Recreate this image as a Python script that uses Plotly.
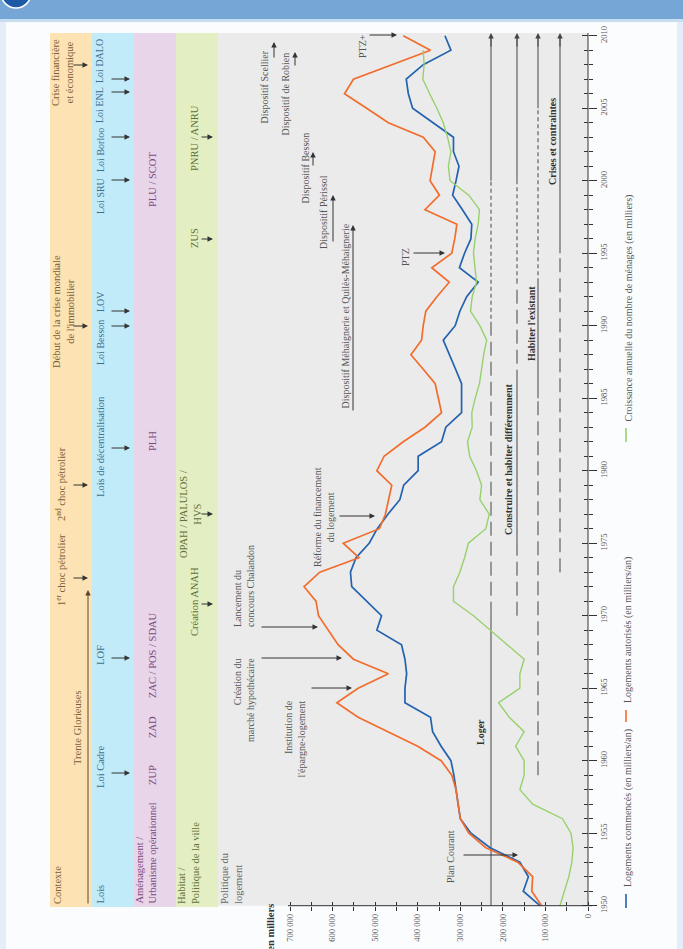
import plotly.graph_objects as go

W, H = 683, 949

# ---------------- data (thousands) ----------------
years = list(range(1950, 2011))
logements_commences = [113, 152, 140, 160, 230, 275, 300, 305, 310, 315,
                       322, 345, 365, 370, 430, 430, 426, 430, 438, 496,
                       485, 520, 555, 558, 545, 514, 495, 470, 442, 433,
                       399, 399, 344, 334, 297, 297, 297, 311, 326, 340,
                       312, 301, 285, 258, 302, 290, 275, 273, 295, 318,
                       310, 303, 316, 316, 364, 412, 422, 427, 387, 322,
                       336]
logements_autorises = [109, 132, 130, 165, 240, 280, 300, 305, 310, 320,
                       345, 400, 470, 540, 590, 540, 469, 551, 587, 610,
                       633, 639, 667, 630, 538, 575, 490, 476, 468, 461,
                       496, 479, 434, 383, 344, 352, 359, 387, 416, 391,
                       387, 381, 355, 326, 367, 320, 313, 308, 383, 349,
                       371, 365, 359, 387, 469, 520, 572, 551, 460, 370,
                       434]
years_menages = list(range(1950, 2010))
croissance_menages = [66, 56, 45, 38, 35, 40, 60, 130, 160, 150,
                      150, 170, 150, 185, 210, 160, 160, 150, 190, 230,
                      269, 316, 316, 301, 290, 281, 240, 232, 254, 250,
                      262, 278, 283, 272, 273, 265, 255, 250, 245, 238,
                      254, 276, 272, 262, 265, 269, 265, 258, 255, 280,
                      324, 328, 322, 330, 340, 355, 372, 388, 385, 387]

value_ticks = [0, 100000, 200000, 300000, 400000, 500000, 600000, 700000]
value_labels = ["0", "100 000", "200 000", "300 000", "400 000", "500 000", "600 000", "700 000"]
year_ticks = list(range(1950, 2011, 5))

series_names = ["Logements commencés (en milliers/an)",
                "Logements autorisés (en milliers/an)",
                "Croissance annuelle du nombre de ménages (en milliers)"]

# ---------------- geometry helpers ----------------
PX0 = 588.0            # pixel column of value 0
PXU = 42.57 / 100000   # pixels per unit
PY2010 = 35.7          # pixel row of 2010
PYR = 14.5             # pixels per year

def X(px):
    return px / W

def Y(py):
    return 1 - py / H

def py_of_year(yr):
    return PY2010 + (2010 - yr) * PYR

xr = [PX0 / PXU, (PX0 - W) / PXU]
yr_range = [2010 - (H - PY2010) / PYR, 2010 + PY2010 / PYR]

SERIF = "Liberation Serif"
C_BLUE = "#2262ae"
C_ORANGE = "#f26d2d"
C_GREEN = "#97d16d"

fig = go.Figure()
fig.add_trace(go.Scatter(x=[v * 1000 for v in logements_commences], y=years, mode="lines",
                         line=dict(color=C_BLUE, width=1.7), name=series_names[0],
                         showlegend=False, hoverinfo="skip"))
fig.add_trace(go.Scatter(x=[v * 1000 for v in logements_autorises], y=years, mode="lines",
                         line=dict(color=C_ORANGE, width=1.7), name=series_names[1],
                         showlegend=False, hoverinfo="skip"))
fig.add_trace(go.Scatter(x=[v * 1000 for v in croissance_menages], y=years_menages, mode="lines",
                         line=dict(color=C_GREEN, width=1.4), name=series_names[2],
                         showlegend=False, hoverinfo="skip", xaxis="x2", yaxis="y2"))

shapes = []
annots = []

def rect(x0, y0, x1, y1, color, line=None):
    shapes.append(dict(type="rect", xref="paper", yref="paper", x0=X(x0), x1=X(x1),
                       y0=Y(y0), y1=Y(y1), fillcolor=color, layer="below",
                       line=dict(width=0) if line is None else line))

def hline_px(x0, x1, py, color="#444", width=1, dash="solid"):
    shapes.append(dict(type="line", xref="paper", yref="paper", x0=X(x0), x1=X(x1),
                       y0=Y(py), y1=Y(py), line=dict(color=color, width=width, dash=dash)))

def vline_px(px, py0, py1, color="#444", width=1, dash="solid"):
    shapes.append(dict(type="line", xref="paper", yref="paper", x0=X(px), x1=X(px),
                       y0=Y(py0), y1=Y(py1), line=dict(color=color, width=width, dash=dash)))

def vtext(text, px, py, anchor="middle", size=10, color="#555", bold=False, align="center"):
    if bold:
        text = "<b>" + text + "</b>"
    annots.append(dict(text=text, xref="paper", yref="paper", x=X(px), y=Y(py),
                       textangle=-90, showarrow=False, xanchor="center", yanchor=anchor,
                       align=align, font=dict(family=SERIF, size=size, color=color),
                       borderpad=0))

def harrow(px_tail, px_head, py, color="#333"):
    annots.append(dict(text="", xref="paper", yref="paper", x=X(px_head), y=Y(py),
                       ax=px_tail - px_head, ay=0, axref="pixel", ayref="pixel",
                       showarrow=True, arrowhead=2, arrowsize=1.1, arrowwidth=1,
                       arrowcolor=color, font=dict(size=10)))

def varrow(px, py_tail, py_head, color="#333"):
    annots.append(dict(text="", xref="paper", yref="paper", x=X(px), y=Y(py_head),
                       ax=0, ay=py_tail - py_head, axref="pixel", ayref="pixel",
                       showarrow=True, arrowhead=2, arrowsize=1.1, arrowwidth=1,
                       arrowcolor=color, font=dict(size=10)))

# ---------------- page furniture ----------------
rect(0, 0, W, 19, "#76a6d6")
rect(0, 19, W, 22, "#c9ddf1")
rect(6, 22, 677, H + 5, "#fbfcfe")
shapes.append(dict(type="circle", xref="paper", yref="paper", x0=X(1), x1=X(31),
                   y0=Y(-22), y1=Y(8), fillcolor="#1c5aa6", line=dict(color="#ffffff", width=1.5),
                   layer="below"))

# band columns
TOP, BOT = 33, 907
rect(50, TOP, 92, BOT, "#fde3b3")
rect(92, TOP, 134, BOT, "#c2ebfa")
rect(134, TOP, 176, BOT, "#e9d5ea")
rect(176, TOP, 218, BOT, "#e3eec3")
rect(218, TOP, PX0, 905.7, "#ebebeb")

# axis lines
hline_px(288, PX0 + 4, py_of_year(1950), color="#333", width=1)
vline_px(PX0, py_of_year(1950), 33, color="#333", width=1)

# ---------------- column texts ----------------
C_CTX, C_LOI, C_AME, C_HAB, C_POL = "#7a5c38", "#3d6f8e", "#7a4a7e", "#5f7132", "#666666"
FS = 10.5
FL = 10

vtext("Contexte", 57, 905, "bottom", FS, C_CTX)
vtext("Trente Glorieuses", 77, 728, "middle", FS, C_CTX)
varrow(88, 905, 590, color="#5a4630")
vtext("1<sup>er</sup> choc pétrolier", 60, 570, "middle", FS, C_CTX)
harrow(72, 88, 578)
vtext("2<sup>nd</sup> choc pétrolier", 60, 484, "middle", FS, C_CTX)
harrow(72, 88, 485)
vtext("Début de la crise mondiale<br>de l'immobilier", 63, 312, "middle", FS, C_CTX)
harrow(72, 88, 326)
vtext("Crise financière<br>et économique", 63, 73, "middle", FS, C_CTX)
harrow(72, 88, 65)

vtext("Lois", 100, 905, "bottom", FS, C_LOI)
vtext("Loi Cadre", 100, 767, "middle", FS, C_LOI)
harrow(110, 130, 773)
vtext("LOF", 100, 655, "middle", FS, C_LOI)
harrow(110, 130, 658)
vtext("Lois de décentralisation", 100, 447, "middle", FS, C_LOI)
harrow(110, 130, 448)
vtext("Loi Besson", 100, 343, "middle", FL, C_LOI)
harrow(110, 130, 326)
vtext("LOV", 100, 302, "middle", FL, C_LOI)
harrow(110, 130, 311)
vtext("Loi SRU", 100, 196, "middle", FL, C_LOI)
harrow(110, 130, 180)
vtext("Loi Borloo", 100, 150, "middle", FL, C_LOI)
harrow(110, 130, 137)
vtext("Loi ENL", 100, 105, "middle", FL, C_LOI)
harrow(110, 130, 92)
vtext("Loi DALO", 100, 61, "middle", FL, C_LOI)
harrow(110, 130, 79)

vtext("Aménagement /<br>Urbanisme opérationnel", 146, 905, "bottom", FS, C_AME, align="left")
vtext("ZUP", 152, 775, "middle", FS, C_AME)
vtext("ZAD", 152, 727, "middle", FS, C_AME)
vtext("ZAC / POS / SDAU", 152, 655, "middle", FS, C_AME)
vtext("PLH", 152, 441, "middle", FS, C_AME)
vtext("PLU / SCOT", 152, 180, "middle", FS, C_AME)

vtext("Habitat /<br>Politique de la ville", 188, 905, "bottom", FS, C_HAB, align="left")
vtext("Création ANAH", 194, 602, "middle", FS, C_HAB)
harrow(200, 213, 604)
vtext("OPAH / PALULOS /<br>HVS", 190, 514, "middle", FS, C_HAB)
harrow(200, 213, 514)
vtext("ZUS", 194, 238, "middle", FS, C_HAB)
harrow(200, 213, 239)
vtext("PNRU / ANRU", 194, 138, "middle", FS, C_HAB)
harrow(200, 213, 137)

vtext("Politique du<br>logement", 231, 905, "bottom", FS, C_POL, align="left")

# ---------------- chart annotations ----------------
C_TXT = "#555555"
FA = 10
vtext("Plan Courant", 450, 857, "middle", FA, C_TXT)
harrow(462, 518, 855)
vtext("Institution de<br>l'épargne-logement", 294, 700, "top", FA, C_TXT, align="right")
harrow(310, 352, 688)
vtext("Création du<br>marché hypothécaire", 244, 657, "top", FA, C_TXT, align="right")
harrow(260, 342, 658)
vtext("Lancement du<br>concours Chalandon", 244, 628, "bottom", FA, C_TXT, align="left")
harrow(260, 318, 627)
vtext("Réforme du financement<br>du logement", 324, 517, "middle", FA, C_TXT)
harrow(338, 375, 516)
vtext("Dispositif Méhaignerie et Quilès-Méhaignerie", 345, 410, "bottom", FA, C_TXT)
varrow(353, 412, 225)
vtext("Dispositif Périssol", 323, 250, "bottom", FA, C_TXT)
varrow(333, 243, 195)
vtext("Dispositif Besson", 305, 205, "bottom", FA, C_TXT)
varrow(313, 167, 152)
vtext("Dispositif de Robien", 285, 137, "bottom", FA, C_TXT)
varrow(295, 67, 52)
vtext("Dispositif Scellier", 264, 125, "bottom", FA, C_TXT)
varrow(274, 59, 42)
vtext("PTZ", 405, 257, "middle", FA, C_TXT)
harrow(412, 445, 253)
vtext("PTZ+", 363, 46, "middle", FA, C_TXT)
harrow(368, 397, 35)

# ---------------- thematic period lines ----------------
LONG, SHORT = "14px,6px", "4px,3px"
themes = ["Loger", "Construire et habiter différemment", "Habiter l'existant", "Crises et contraintes"]
theme_px = [491, 517, 538, 560]
theme_periods = [
    [(1950, 1970, "solid"), (1970, 1990, LONG), (1990, 2000, SHORT), (2000, 2010, "solid")],
    [(1970, 1975, LONG), (1975, 1986, "solid"), (1986, 1993, LONG), (1993, 2000, SHORT), (2000, 2010, "solid")],
    [(1959, 1985, LONG), (1985, 1993, "solid"), (1993, 2005, SHORT), (2005, 2010, "solid")],
    [(1973, 1995, LONG), (1995, 2010, "solid")],
]
theme_label_px = [480, 508, 531, 553]
theme_label_py = [732, 460, 324, 142]
for name, px, periods, lpx, lpy in zip(themes, theme_px, theme_periods, theme_label_px, theme_label_py):
    for (y0, y1, dash) in periods:
        shapes.append(dict(type="line", xref="paper", yref="y", x0=X(px), x1=X(px), y0=y0, y1=y1,
                           line=dict(color="#555", width=1.1, dash=dash), layer="below"))
    varrow(px, 48, 33, color="#444")
    vtext(name, lpx, lpy, "middle", 10, "#333", bold=True)

# ---------------- legend (rotated) ----------------
leg_colors = [C_BLUE, C_ORANGE, C_GREEN]
leg_marker_py = [(894, 908), (710, 722), (428, 442)]
leg_text_py = [888, 704, 423]
for name, col, (m0, m1), tpy in zip(series_names, leg_colors, leg_marker_py, leg_text_py):
    vline_px(626, m0, m1, color=col, width=1.6)
    vtext(name, 628, tpy, "bottom", 10, "#555")

vtext("Nombre de logements en milliers", 270, 903, "top", 10.5, "#333", bold=True)

# ---------------- layout ----------------
tickfont = dict(family=SERIF, size=8.5, color="#555")
fig.update_layout(
    width=W, height=H, margin=dict(l=0, r=0, t=0, b=0),
    paper_bgcolor="#e5eef8", plot_bgcolor="rgba(0,0,0,0)",
    showlegend=False, shapes=shapes, annotations=annots,
    xaxis=dict(domain=[0, 1], range=xr, anchor="free", position=Y(py_of_year(1950)),
               showgrid=False, zeroline=False, showline=False,
               tickmode="array", tickvals=value_ticks, ticktext=value_labels,
               tickangle=-90, ticks="outside", ticklen=4, tickwidth=1, tickcolor="#333",
               tickfont=tickfont,
               minor=dict(tickmode="array", tickvals=[v + 50000 for v in value_ticks[:-1]],
                          ticks="outside", ticklen=4, tickwidth=1, tickcolor="#333")),
    xaxis2=dict(overlaying="x", matches="x", anchor="free", position=Y(py_of_year(1950)),
                showgrid=False, zeroline=False, showline=False, showticklabels=False,
                tickmode="array", tickvals=value_ticks, ticks="inside", ticklen=4,
                tickwidth=1, tickcolor="#333",
                minor=dict(tickmode="array", tickvals=[v + 50000 for v in value_ticks[:-1]],
                           ticks="inside", ticklen=4, tickwidth=1, tickcolor="#333")),
    yaxis=dict(domain=[0, 1], range=yr_range, side="right", anchor="free", position=X(PX0),
               showgrid=False, zeroline=False, showline=False,
               tickmode="array", tickvals=year_ticks, tickangle=-90,
               ticks="outside", ticklen=8, tickwidth=1, tickcolor="#333", tickfont=tickfont,
               minor=dict(tickmode="array", tickvals=years, ticks="outside", ticklen=4,
                          tickwidth=1, tickcolor="#333")),
    yaxis2=dict(overlaying="y", matches="y", side="right", anchor="free", position=X(PX0),
                showgrid=False, zeroline=False, showline=False, showticklabels=False,
                tickmode="array", tickvals=year_ticks, ticks="inside", ticklen=6,
                tickwidth=1, tickcolor="#333",
                minor=dict(tickmode="array", tickvals=years, ticks="inside", ticklen=4,
                           tickwidth=1, tickcolor="#333")),
)

fig.write_html("out.html", post_script="document.body.style.margin='0';")
